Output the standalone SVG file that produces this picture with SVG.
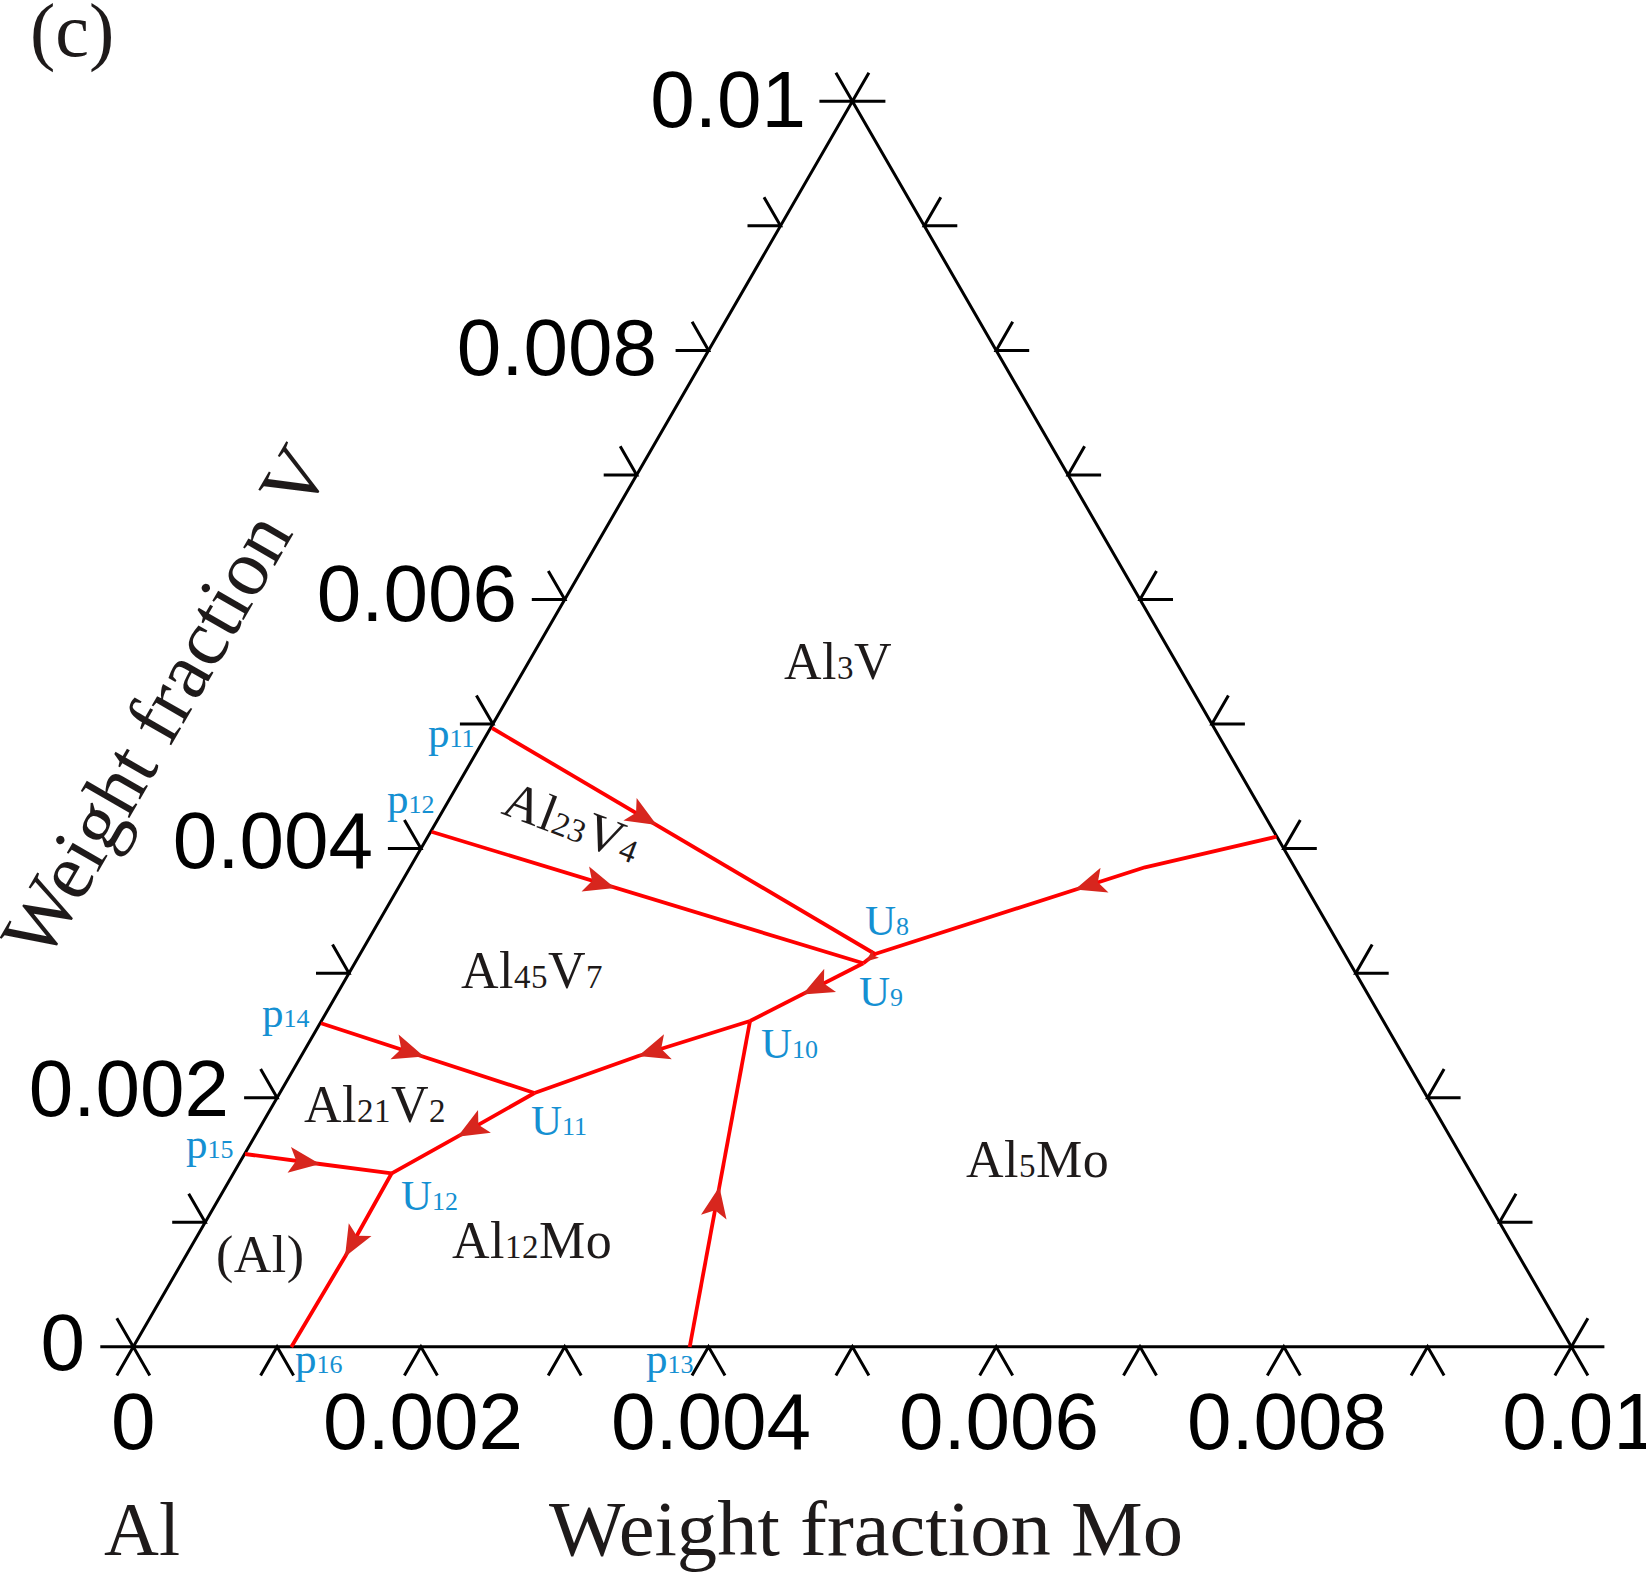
<svg xmlns="http://www.w3.org/2000/svg" xmlns:xlink="http://www.w3.org/1999/xlink" width="1646" height="1574" viewBox="0 0 1646 1574">
<style>
.ax{stroke:#000;stroke-width:3;fill:none;stroke-linecap:butt}
.rl{stroke:#ff0000;stroke-width:3.8;fill:none;stroke-linejoin:round}
.ar{fill:#d7261e}
.num{font-family:"Liberation Sans",Arial,sans-serif;font-size:80px;fill:#000}
.ser{font-family:"Liberation Serif","Times New Roman",serif;fill:#1e1a1a}
.reg{font-family:"Liberation Serif","Times New Roman",serif;font-size:52px;fill:#1e1a1a;letter-spacing:0.5px}
.reg tspan{font-size:33px}
.pt{font-family:"Liberation Serif","Times New Roman",serif;font-size:43px;fill:#1590d2}
.pt tspan{font-size:26px}
</style>
<defs>
<path id="ah" d="M0,0 L-31,-13 L-24,0 L-31,13 Z"/>
</defs>
<rect width="1646" height="1574" fill="#fff"/>

<g id="frame">
<path class="ax" d="M133.3,1346.8 L852.4,101.3 L1571.4,1346.8 Z"/>
</g>

<g id="ticks-left" class="ax">
<path d="M100.3,1346.8 L133.3,1346.8 L116.8,1318.2"/>
<path d="M172.2,1222.25 L205.2,1222.25 L188.7,1193.65"/>
<path d="M244.1,1097.7 L277.1,1097.7 L260.6,1069.1"/>
<path d="M316,973.15 L349,973.15 L332.5,944.55"/>
<path d="M387.9,848.6 L420.9,848.6 L404.4,820"/>
<path d="M459.9,724.05 L492.9,724.05 L476.4,695.45"/>
<path d="M531.8,599.5 L564.8,599.5 L548.3,570.9"/>
<path d="M603.7,474.95 L636.7,474.95 L620.2,446.35"/>
<path d="M675.6,350.4 L708.6,350.4 L692.1,321.8"/>
<path d="M747.5,225.85 L780.5,225.85 L764,197.25"/>
<path d="M819.4,101.3 L852.4,101.3 L835.9,72.7"/>
</g>

<g id="ticks-right" class="ax">
<path d="M885.4,101.3 L852.4,101.3 L868.9,72.7"/>
<path d="M957.3,225.85 L924.3,225.85 L940.8,197.25"/>
<path d="M1029.2,350.4 L996.2,350.4 L1012.7,321.8"/>
<path d="M1101.1,474.95 L1068.1,474.95 L1084.6,446.35"/>
<path d="M1173,599.5 L1140,599.5 L1156.5,570.9"/>
<path d="M1244.9,724.05 L1211.9,724.05 L1228.4,695.45"/>
<path d="M1316.8,848.6 L1283.8,848.6 L1300.3,820"/>
<path d="M1388.7,973.15 L1355.7,973.15 L1372.2,944.55"/>
<path d="M1460.6,1097.7 L1427.6,1097.7 L1444.1,1069.1"/>
<path d="M1532.5,1222.25 L1499.5,1222.25 L1516,1193.65"/>
<path d="M1604.4,1346.8 L1571.4,1346.8 L1587.9,1318.2"/>
</g>

<g id="ticks-bottom" class="ax">
<path d="M116.8,1375.4 L133.3,1346.8 L149.8,1375.4"/>
<path d="M260.6,1375.4 L277.1,1346.8 L293.6,1375.4"/>
<path d="M404.4,1375.4 L420.9,1346.8 L437.4,1375.4"/>
<path d="M548.2,1375.4 L564.7,1346.8 L581.2,1375.4"/>
<path d="M692,1375.4 L708.5,1346.8 L725,1375.4"/>
<path d="M835.9,1375.4 L852.4,1346.8 L868.9,1375.4"/>
<path d="M979.7,1375.4 L996.2,1346.8 L1012.7,1375.4"/>
<path d="M1123.5,1375.4 L1140,1346.8 L1156.5,1375.4"/>
<path d="M1267.3,1375.4 L1283.8,1346.8 L1300.3,1375.4"/>
<path d="M1411.1,1375.4 L1427.6,1346.8 L1444.1,1375.4"/>
<path d="M1554.9,1375.4 L1571.4,1346.8 L1587.9,1375.4"/>
</g>

<g id="labels-left" class="num" text-anchor="end">
<text x="806" y="127">0.01</text>
<text x="657" y="375">0.008</text>
<text x="517" y="621">0.006</text>
<text x="373" y="868">0.004</text>
<text x="229" y="1116">0.002</text>
<text x="85" y="1370">0</text>
</g>

<g id="labels-bottom" class="num" text-anchor="middle">
<text x="133.3" y="1449">0</text>
<text x="423" y="1449">0.002</text>
<text x="711" y="1449">0.004</text>
<text x="999" y="1449">0.006</text>
<text x="1287" y="1449">0.008</text>
<text x="1580" y="1449">0.01</text>
</g>

<g id="titles" class="ser">
<text x="30" y="56" font-size="76">(c)</text>
<text x="104" y="1555" font-size="76">Al</text>
<text x="549" y="1555" font-size="78" textLength="634" lengthAdjust="spacingAndGlyphs">Weight fraction Mo</text>
<text x="45" y="964" font-size="80" transform="rotate(-60 45 964)">Weight fraction V</text>
</g>

<g id="regions">
<text id="r-Al3V" class="reg" x="784" y="679">Al<tspan>3</tspan>V</text>
<text id="r-Al23V4" class="reg" x="500" y="813" transform="rotate(21 500 813)">Al<tspan>23</tspan>V<tspan>4</tspan></text>
<text id="r-Al45V7" class="reg" x="461" y="988">Al<tspan>45</tspan>V<tspan>7</tspan></text>
<text id="r-Al21V2" class="reg" x="304" y="1122">Al<tspan>21</tspan>V<tspan>2</tspan></text>
<text id="r-Al12Mo" class="reg" x="452" y="1258">Al<tspan>12</tspan>Mo</text>
<text id="r-Al5Mo" class="reg" x="966" y="1177">Al<tspan>5</tspan>Mo</text>
<text id="r-Al" class="reg" x="216" y="1272">(Al)</text>
</g>

<g id="connectors">
<path class="rl" d="M492,728 L875,954"/>
<path class="rl" d="M431.5,831.7 L863.3,963.3"/>
<path class="rl" d="M1276.5,836.7 L1145,867.3 L875,954"/>
<path class="rl" d="M875,954 L863.3,963.3"/>
<path class="rl" d="M863.3,963.3 L750,1021"/>
<path class="rl" d="M750,1021 L638.3,1056 L534.5,1093"/>
<path class="rl" d="M321,1023.3 L534.5,1093"/>
<path class="rl" d="M534.5,1093 L457.5,1136.7 L391.7,1173.3"/>
<path class="rl" d="M245,1154 L320,1164 L391.7,1173.3"/>
<path class="rl" d="M391.7,1173.3 L345,1256.7 L291.3,1347"/>
<path class="rl" d="M689.7,1347 L750,1021"/>
<g class="ar">
<use xlink:href="#ah" transform="translate(656.7,825) rotate(30.6)"/>
<use xlink:href="#ah" transform="translate(615,888) rotate(16.9)"/>
<use xlink:href="#ah" transform="translate(1075,889.5) rotate(162.2)"/>
<use xlink:href="#ah" transform="translate(802.5,994.5) rotate(153)"/>
<use xlink:href="#ah" transform="translate(638.3,1056) rotate(162.6)"/>
<use xlink:href="#ah" transform="translate(424,1056.5) rotate(18.2)"/>
<use xlink:href="#ah" transform="translate(457.5,1136.7) rotate(150.4)"/>
<use xlink:href="#ah" transform="translate(320,1164) rotate(7.6)"/>
<use xlink:href="#ah" transform="translate(345,1256.7) rotate(119.2)"/>
<use xlink:href="#ah" transform="translate(719.4,1186.7) rotate(-79.5)"/>
<use xlink:href="#ah" transform="translate(866,961.5) rotate(141.5) scale(0.4)"/>
</g>
</g>

<g id="points">
<text id="p11" class="pt" x="428" y="747">p<tspan>11</tspan></text>
<text id="p12" class="pt" x="387" y="813">p<tspan>12</tspan></text>
<text id="p14" class="pt" x="262" y="1027">p<tspan>14</tspan></text>
<text id="p15" class="pt" x="186" y="1158">p<tspan>15</tspan></text>
<text id="p16" class="pt" x="295" y="1373">p<tspan>16</tspan></text>
<text id="p13" class="pt" x="646" y="1373">p<tspan>13</tspan></text>
<text id="U8" class="pt" x="865" y="935">U<tspan>8</tspan></text>
<text id="U9" class="pt" x="859" y="1006">U<tspan>9</tspan></text>
<text id="U10" class="pt" x="761" y="1058">U<tspan>10</tspan></text>
<text id="U11" class="pt" x="531" y="1135">U<tspan>11</tspan></text>
<text id="U12" class="pt" x="401" y="1210">U<tspan>12</tspan></text>
</g>
</svg>
